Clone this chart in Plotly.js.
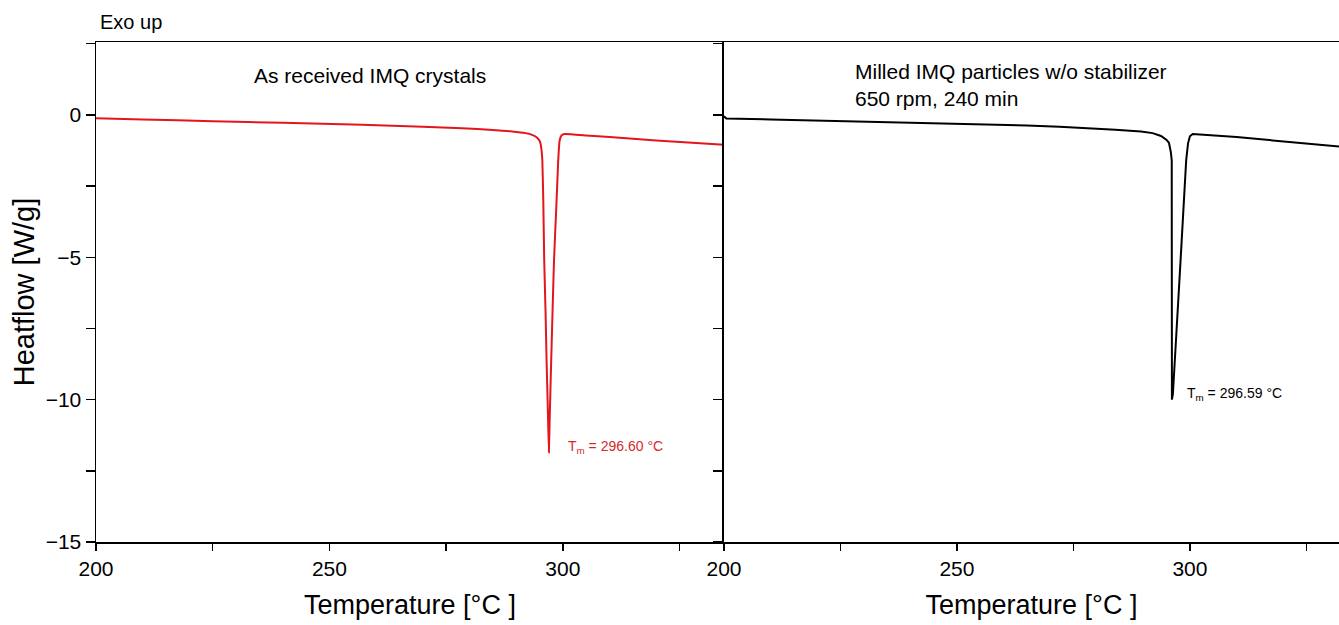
<!DOCTYPE html>
<html>
<head>
<meta charset="utf-8">
<script src="https://cdn.plot.ly/plotly-3.0.1.min.js"></script>
<style>html,body{margin:0;padding:0;background:#fff;}#chart{width:1339px;height:625px;}</style>
</head>
<body>
<div id="chart"></div>
<script>
// As received IMQ crystals (red)
const tempRaw = [200, 210, 225, 240, 257, 270, 278.4, 285, 289.1, 292, 293.4, 294.5, 295.1, 295.4, 295.6, 295.8, 296.0, 296.3, 296.5, 296.8, 297.0, 297.2, 297.5, 297.8, 298.1, 298.6, 299.0, 299.3, 299.7, 300.3, 305, 310, 320, 334.5];
const heatRaw = [-0.12, -0.16, -0.22, -0.28, -0.35, -0.42, -0.47, -0.53, -0.58, -0.64, -0.70, -0.80, -0.94, -1.2, -1.6, -3.0, -5.1, -7.0, -8.6, -10.5, -11.86, -10.5, -8.6, -6.8, -5.1, -3.2, -1.6, -0.9, -0.72, -0.67, -0.72, -0.78, -0.90, -1.05];
// Milled IMQ particles w/o stabilizer (black)
const tempMilled = [200, 200.5, 210, 220, 228.5, 240, 250, 257.3, 265, 272, 278.8, 284, 289.5, 292, 293.8, 295.0, 295.5, 295.9, 296.1, 296.12, 296.14, 296.35, 297.0, 298.0, 299.2, 299.6, 300.0, 300.6, 310, 320, 332];
const heatMilled = [-0.05, -0.13, -0.16, -0.20, -0.23, -0.27, -0.30, -0.33, -0.37, -0.42, -0.47, -0.52, -0.58, -0.64, -0.74, -0.88, -0.98, -1.3, -1.6, -5.0, -10.0, -9.8, -7.8, -5.1, -1.6, -1.0, -0.75, -0.67, -0.78, -0.92, -1.11];

const xTicks = [200, 250, 300];
const yTicks = [0, -5, -10, -15];
const labels = {
  exo: 'Exo up',
  left: 'As received IMQ crystals',
  right: 'Milled IMQ particles w/o stabilizer<br>650 rpm, 240 min',
  tmLeft: 'T<sub>m</sub> = 296.60 °C',
  tmRight: 'T<sub>m</sub> = 296.59 °C',
  xTitle: 'Temperature [°C ]',
  yTitle: 'Heatflow [W/g]'
};

const FONT = 'Arial, "Liberation Sans", sans-serif';
const RED = '#e3161c';

const traces = [
  {x: tempRaw, y: heatRaw, type: 'scatter', mode: 'lines', line: {color: RED, width: 2, shape: 'spline', smoothing: 0.3}, xaxis: 'x', yaxis: 'y', hoverinfo: 'skip'},
  {x: tempMilled, y: heatMilled, type: 'scatter', mode: 'lines', line: {color: '#000', width: 2}, xaxis: 'x2', yaxis: 'y2', hoverinfo: 'skip'}
];

const xCommon = {
  showline: true, linecolor: '#000', linewidth: 1.5, mirror: true,
  ticks: 'outside', ticklen: 7, tickwidth: 1.5, tickcolor: '#000',
  tickvals: xTicks, ticktext: xTicks.map(String),
  minor: {dtick: 25, tick0: 200, ticks: 'outside', ticklen: 7, tickwidth: 1.5, tickcolor: '#000', showgrid: false},
  showgrid: false, zeroline: false,
  tickfont: {family: FONT, size: 21, color: '#000'},
  title: {text: labels.xTitle, font: {family: FONT, size: 27, color: '#000'}, standoff: 16}
};

const layout = {
  width: 1339, height: 625,
  margin: {l: 96, r: 0, t: 42, b: 83},
  paper_bgcolor: '#fff', plot_bgcolor: '#fff',
  showlegend: false,
  font: {family: FONT, color: '#000'},
  xaxis: Object.assign({}, xCommon, {domain: [0, 0.5052], range: [200, 334.5], anchor: 'y'}),
  xaxis2: Object.assign({}, xCommon, {domain: [0.5052, 1], range: [200, 332], anchor: 'y2'}),
  yaxis: {
    domain: [0, 1], range: [-15, 2.56], anchor: 'x',
    showline: true, linecolor: '#000', linewidth: 1.5,
    ticks: 'outside', ticklen: 9, tickwidth: 1.5, tickcolor: '#000',
    tickvals: yTicks,
    minor: {dtick: 2.5, tick0: 0, ticks: 'outside', ticklen: 9, tickwidth: 1.5, tickcolor: '#000', showgrid: false},
    showgrid: false, zeroline: false,
    tickfont: {family: FONT, size: 21, color: '#000'},
    title: {text: labels.yTitle, font: {family: FONT, size: 29, color: '#000'}, standoff: 2}
  },
  yaxis2: {
    domain: [0, 1], range: [-15, 2.56], anchor: 'x2',
    showline: true, linecolor: '#000', linewidth: 1.5,
    ticks: 'outside', ticklen: 9, tickwidth: 1.5, tickcolor: '#000',
    dtick: 2.5, tick0: 0, showticklabels: false,
    showgrid: false, zeroline: false
  },
  annotations: [
    {text: labels.exo, xref: 'paper', yref: 'paper', x: 0.0016, y: 1.04, xanchor: 'left', yanchor: 'middle', showarrow: false, font: {family: FONT, size: 20, color: '#000'}},
    {text: labels.left, xref: 'x', yref: 'y', x: 233.5, y: 1.40, xanchor: 'left', yanchor: 'middle', showarrow: false, font: {family: FONT, size: 21, color: '#000'}},
    {text: labels.right, xref: 'x2', yref: 'y2', x: 227.7, y: 1.05, xanchor: 'left', yanchor: 'middle', align: 'left', showarrow: false, font: {family: FONT, size: 21, color: '#000'}},
    {text: labels.tmLeft, xref: 'x', yref: 'y', x: 300.7, y: -11.68, xanchor: 'left', yanchor: 'middle', showarrow: false, font: {family: FONT, size: 14, color: '#d42a2a'}},
    {text: labels.tmRight, xref: 'x2', yref: 'y2', x: 298.9, y: -9.79, xanchor: 'left', yanchor: 'middle', showarrow: false, font: {family: FONT, size: 14, color: '#000'}}
  ]
};

Plotly.newPlot('chart', traces, layout, {staticPlot: true, displayModeBar: false});
</script>
</body>
</html>
